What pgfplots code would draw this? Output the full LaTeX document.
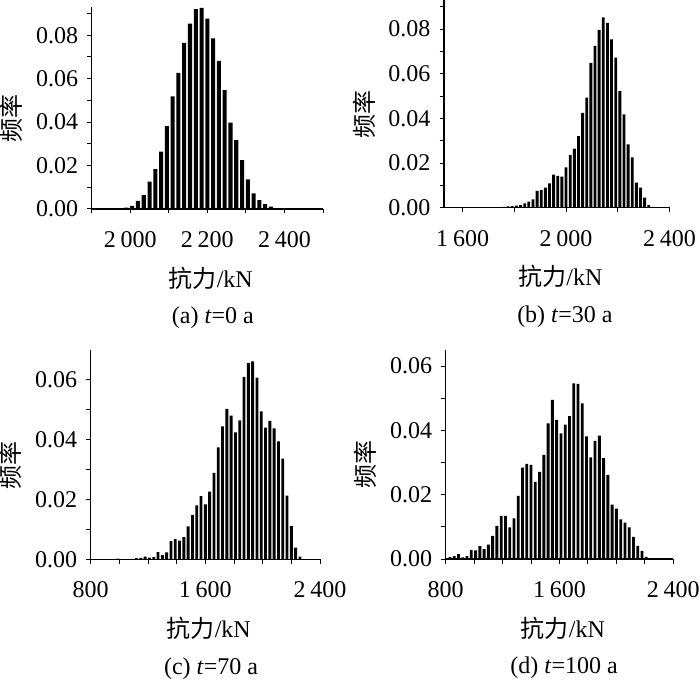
\documentclass[border=0pt]{standalone}
\usepackage{fontspec}
\setmainfont{Liberation Serif}
\newfontfamily\cjk{Noto Sans CJK SC}
\usepackage{pgfplots}
\usepackage{pgfplotstable}
\pgfplotsset{compat=1.18}

\pgfplotstableread{
x y
1945 0.0001
1960 0.0002
1975 0.0003
1990 0.0006
2005 0.0014
2020 0.0037
2035 0.0064
2050 0.0126
2065 0.0184
2080 0.0264
2095 0.0382
2110 0.0518
2125 0.0627
2140 0.0765
2155 0.0854
2170 0.0920
2185 0.0926
2200 0.0877
2215 0.0785
2230 0.0682
2245 0.0547
2260 0.0398
2275 0.0317
2290 0.0225
2305 0.0136
2320 0.0072
2335 0.0041
2350 0.0023
2365 0.0011
2380 0.0004
2395 0.0002
2410 0.0001
}\dataA

\pgfplotstableread{
x y
1664 0.0001
1680 0.0001
1696 0.0002
1712 0.0001
1728 0.0002
1744 0.0002
1760 0.0004
1776 0.0006
1792 0.0007
1808 0.0009
1824 0.0012
1840 0.0019
1856 0.0027
1872 0.0037
1888 0.0075
1904 0.0079
1920 0.0090
1936 0.0109
1952 0.0148
1968 0.0143
1984 0.0139
2000 0.0181
2016 0.0235
2032 0.0264
2048 0.0321
2064 0.0425
2080 0.0493
2096 0.0649
2112 0.0725
2128 0.0796
2144 0.0852
2160 0.0828
2176 0.0754
2192 0.0672
2208 0.0522
2224 0.0418
2240 0.0284
2256 0.0225
2272 0.0112
2288 0.0090
2304 0.0045
2320 0.0012
2336 0.0004
}\dataB

\pgfplotstableread{
x y
990 0.0002
1120 0.0004
1150 0.0005
1180 0.0009
1210 0.0006
1240 0.0007
1270 0.0024
1300 0.0014
1330 0.0023
1360 0.0061
1390 0.0067
1420 0.0062
1450 0.0074
1480 0.0110
1510 0.0148
1540 0.0180
1570 0.0211
1600 0.0183
1630 0.0226
1660 0.0288
1690 0.0373
1720 0.0443
1750 0.0502
1780 0.0479
1810 0.0423
1840 0.0463
1870 0.0608
1900 0.0654
1930 0.0660
1960 0.0606
1990 0.0493
2020 0.0439
2050 0.0462
2080 0.0437
2110 0.0393
2140 0.0336
2170 0.0212
2200 0.0111
2230 0.0039
2260 0.0009
}\dataC

\pgfplotstableread{
x y
830 0.0006
860 0.0009
890 0.0015
920 0.0005
950 0.0009
980 0.0028
1010 0.0027
1040 0.0040
1070 0.0031
1100 0.0045
1130 0.0072
1160 0.0103
1190 0.0134
1220 0.0134
1250 0.0098
1280 0.0126
1310 0.0196
1340 0.0284
1370 0.0296
1400 0.0293
1430 0.0240
1460 0.0271
1490 0.0324
1520 0.0422
1550 0.0495
1580 0.0433
1610 0.0391
1640 0.0418
1670 0.0444
1700 0.0546
1730 0.0545
1760 0.0484
1790 0.0381
1820 0.0316
1850 0.0367
1880 0.0384
1910 0.0314
1940 0.0262
1970 0.0169
2000 0.0157
2030 0.0123
2060 0.0113
2090 0.0098
2120 0.0069
2150 0.0041
2180 0.0025
2210 0.0007
}\dataD

\pgfplotsset{
  hist/.style={
    scale only axis,
    anchor=south west,
    axis on top,
    axis x line=bottom,
    axis y line=left,
    axis line style={-, line width=1.1pt},
    tick align=outside,
    major tick length=4.5pt,
    minor tick length=4.5pt,
    tick style={line width=1pt, black},
    ymin=0,
    clip=false,
    scaled y ticks=false,
    scaled x ticks=false,
    /pgf/number format/assume math mode=true,
    /pgf/number format/1000 sep={\hspace{0.2em}},
    y tick label style={/pgf/number format/fixed, /pgf/number format/fixed zerofill, /pgf/number format/precision=2, xshift=-1pt},
    x tick label style={yshift=-10pt},
    ylabel={\cjk 频率},
    xlabel={{\cjk 抗力}/kN},
    ylabel style={at={(axis description cs:0,0.45)}, anchor=center, yshift=80pt},
    xlabel style={at={(axis description cs:0.515,0)}, anchor=center, yshift=-69pt},
  },
  hbar/.style={ybar, fill=black, draw=none},
}

\begin{document}
\fontsize{24}{28}\selectfont
\begin{tikzpicture}
\path[use as bounding box] (0,0) rectangle (700pt,680pt);

% (a)
\begin{axis}[hist, at={(91.7pt,471pt)}, width=231.3pt, height=202pt,
  xmin=1900, xmax=2500, ymax=0.093,
  xtick={2000,2200,2400}, minor xtick={1900,2100,2300,2500},
  ytick={0,0.02,0.04,0.06,0.08}, minor ytick={0.01,0.03,0.05,0.07,0.09}]
\addplot[hbar, bar width=10.5] table[x=x,y=y] {\dataA};
\node[yshift=-109pt] at (axis description cs:0.524,0) {(a) \textit{t}=0 a};
\end{axis}

% (b)
\begin{axis}[hist, at={(444pt,472.3pt)}, width=226pt, height=207.7pt,
  xmin=1528, xmax=2402, ymax=0.093,
  xtick={1600,2000,2400}, minor xtick={1800,2200},
  ytick={0,0.02,0.04,0.06,0.08}, minor ytick={0.01,0.03,0.05,0.07,0.09}]
\addplot[hbar, bar width=11] table[x=x,y=y] {\dataB};
\node[yshift=-109pt] at (axis description cs:0.535,0) {(b) \textit{t}=30 a};
\end{axis}

% (c)
\begin{axis}[hist, at={(90.7pt,120.7pt)}, width=229.3pt, height=209.3pt,
  xmin=800, xmax=2400, ymax=0.0698,
  xtick={800,1600,2400}, minor xtick={1000,1200,1400,1800,2000,2200},
  ytick={0,0.02,0.04,0.06}, minor ytick={0.01,0.03,0.05}]
\addplot[hbar, bar width=20] table[x=x,y=y] {\dataC};
\node[yshift=-109pt] at (axis description cs:0.525,0) {(c) \textit{t}=70 a};
\end{axis}

% (d)
\begin{axis}[hist, at={(445.7pt,121pt)}, width=227.6pt, height=209pt,
  xmin=800, xmax=2400, ymax=0.065,
  xtick={800,1600,2400}, minor xtick={1000,1200,1400,1800,2000,2200},
  ytick={0,0.02,0.04,0.06}, minor ytick={0.01,0.03,0.05}]
\addplot[hbar, bar width=20] table[x=x,y=y] {\dataD};
\node[yshift=-109pt] at (axis description cs:0.52,0) {(d) \textit{t}=100 a};
\end{axis}
\end{tikzpicture}
\end{document}
